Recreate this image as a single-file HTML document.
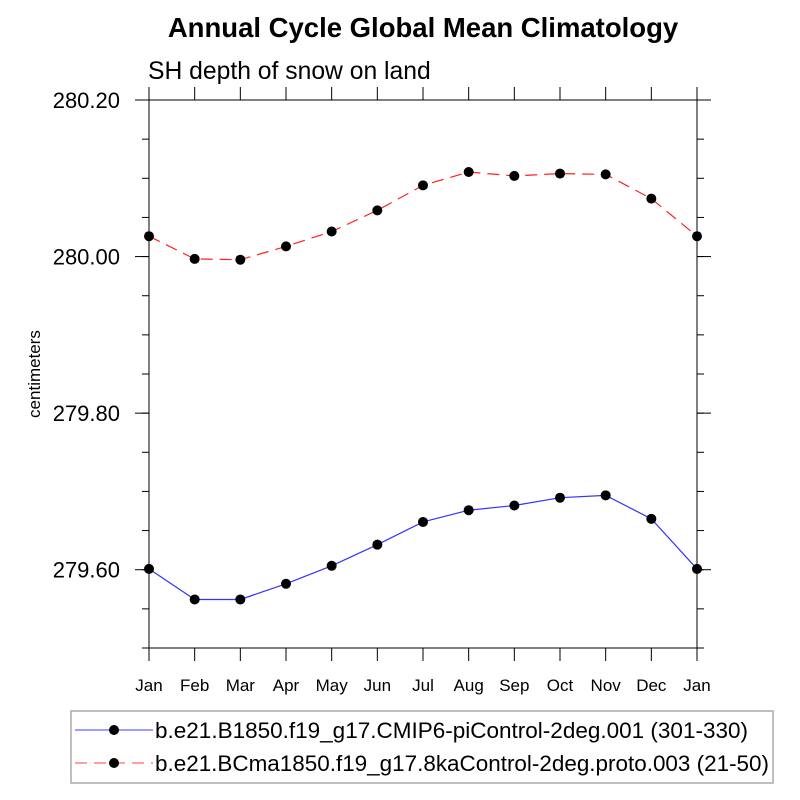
<!DOCTYPE html>
<html><head><meta charset="utf-8"><style>
body{margin:0;background:#fff}
svg{display:block;font-family:"Liberation Sans",sans-serif}
</style></head><body>
<svg id="c" width="800" height="800" viewBox="0 0 800 800">
<text x="423" y="37" font-size="27.5" font-weight="bold" text-anchor="middle">Annual Cycle Global Mean Climatology</text>
<text x="148" y="79" font-size="24.7">SH depth of snow on land</text>
<text transform="translate(40,374) rotate(-90)" font-size="17" text-anchor="middle">centimeters</text>
<g id="axes"></g>
<g id="series"></g>
<rect x="71" y="711" width="702" height="72" fill="none" stroke="#aaa" stroke-width="1.5"/>
<g>
<line x1="75" y1="730" x2="153" y2="730" stroke="#6666ff" stroke-width="1.2"/>
<circle cx="114" cy="730" r="5" fill="#000"/>
<text x="155" y="738" font-size="22" textLength="593" lengthAdjust="spacingAndGlyphs">b.e21.B1850.f19_g17.CMIP6-piControl-2deg.001 (301-330)</text>
</g>
<g>
<line x1="75" y1="763" x2="153" y2="763" stroke="#ff6666" stroke-width="1.2" stroke-dasharray="12,7"/>
<circle cx="114" cy="763" r="5" fill="#000"/>
<text x="155" y="771" font-size="22" textLength="614" lengthAdjust="spacingAndGlyphs">b.e21.BCma1850.f19_g17.8kaControl-2deg.proto.003 (21-50)</text>
</g>
</svg>
<script>
const months=["Jan","Feb","Mar","Apr","May","Jun","Jul","Aug","Sep","Oct","Nov","Dec","Jan"];
const blueValues=[279.601,279.562,279.562,279.582,279.605,279.632,279.661,279.676,279.682,279.692,279.695,279.665,279.601];
const redValues=[280.026,279.997,279.996,280.013,280.032,280.059,280.091,280.108,280.103,280.106,280.105,280.074,280.026];
const yTickValues=[279.6,279.8,280.0,280.2];
const yTickLabels=["279.60","279.80","280.00","280.20"];
const X0=149,X1=697,Y0=100,Y1=648,YMIN=279.5,YMAX=280.2;
const NS="http://www.w3.org/2000/svg";
const xs=i=>X0+(X1-X0)*i/(months.length-1);
const ys=v=>Y1-(v-YMIN)/(YMAX-YMIN)*(Y1-Y0);
function mk(t,a,p){const e=document.createElementNS(NS,t);for(const k in a)e.setAttribute(k,a[k]);p.appendChild(e);return e;}
const ax=document.getElementById('axes'),se=document.getElementById('series');
const frame=mk('rect',{x:X0,y:Y0,width:X1-X0,height:Y1-Y0,fill:'none',stroke:'#000','stroke-width':1},ax);


months.forEach((m,i)=>{
  const x=xs(i);
  mk('line',{x1:x,y1:Y1,x2:x,y2:Y1+13,stroke:'#000'},ax);
  mk('line',{x1:x,y1:Y0,x2:x,y2:Y0-13,stroke:'#000'},ax);
  const t=mk('text',{x:x,y:Y1+43,'font-size':17,'text-anchor':'middle'},ax);
  t.textContent=m;
  
  
});
for(let v=YMIN;v<=YMAX+1e-9;v+=0.05){
  const y=ys(v);
  mk('line',{x1:X0,y1:y,x2:X0-7,y2:y,stroke:'#000'},ax);
  mk('line',{x1:X1,y1:y,x2:X1+7,y2:y,stroke:'#000'},ax);
}
yTickValues.forEach((v,i)=>{
  const y=ys(v);
  mk('line',{x1:X0,y1:y,x2:X0-14,y2:y,stroke:'#000'},ax);
  mk('line',{x1:X1,y1:y,x2:X1+14,y2:y,stroke:'#000'},ax);
  const t=mk('text',{x:120,y:y+8,'font-size':22,'text-anchor':'end'},ax);
  t.textContent=yTickLabels[i];
  
  
});
function draw(vals,color,dash,name){
  const pl=mk('polyline',{points:vals.map((v,i)=>xs(i)+','+ys(v)).join(' '),fill:'none',stroke:color,'stroke-width':1.2,'stroke-dasharray':dash},se);
  
  
  vals.forEach((v,i)=>{
    const c=mk('circle',{cx:xs(i),cy:ys(v),r:5,fill:'#000'},se);
    
    
  });
}
draw(blueValues,'#3333ff','none','blue-series');
draw(redValues,'#ff2222','12,7','red-series');
</script>
</body></html>
